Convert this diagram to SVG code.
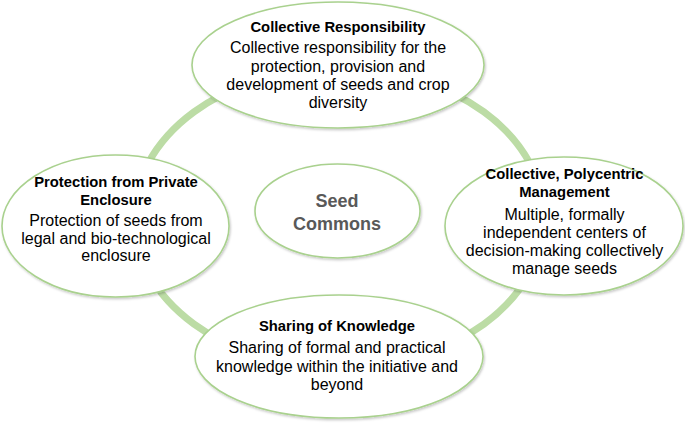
<svg xmlns="http://www.w3.org/2000/svg" width="685" height="424" viewBox="0 0 685 424">
  <style>
    .node { fill: #ffffff; stroke: #a9d18e; stroke-width: 1.6; filter: url(#sh); }
    .ring { fill: none; stroke: #bcdca5; stroke-width: 7; }
    .t { font-family: "Liberation Sans", Arial, sans-serif; font-size: 14.8px; font-weight: bold; fill: #000; text-anchor: middle; }
    .b { font-family: "Liberation Sans", Arial, sans-serif; font-size: 16px; fill: #000; text-anchor: middle; }
    .c { font-family: "Liberation Sans", Arial, sans-serif; font-size: 18px; font-weight: bold; fill: #595959; text-anchor: middle; }
  </style>
  <defs>
    <filter id="sh" x="-10%" y="-10%" width="120%" height="125%">
      <feDropShadow dx="1" dy="1.5" stdDeviation="0.8" flood-color="#000" flood-opacity="0.22"/>
    </filter>
  </defs>
  <rect width="685" height="424" fill="#ffffff"/>
  <g id="connectors">
    <ellipse class="ring" cx="339" cy="218" rx="205" ry="150"/>
  </g>
  <g id="center">
    <ellipse class="node" cx="337.5" cy="211" rx="82.5" ry="47"/>
    <text class="c" x="337" y="206.5">Seed</text>
    <text class="c" x="337" y="230">Commons</text>
  </g>
  <g id="top">
    <ellipse class="node" cx="338" cy="65" rx="146" ry="63"/>
    <text class="t" x="338" y="32">Collective Responsibility</text>
    <text class="b" x="338" y="53">Collective responsibility for the</text>
    <text class="b" x="338" y="71.5">protection, provision and</text>
    <text class="b" x="338" y="90">development of seeds and crop</text>
    <text class="b" x="338" y="107.5">diversity</text>
  </g>
  <g id="left">
    <ellipse class="node" cx="115.5" cy="226" rx="113.5" ry="71"/>
    <text class="t" x="116" y="187">Protection from Private</text>
    <text class="t" x="116" y="204.5">Enclosure</text>
    <text class="b" x="116" y="226">Protection of seeds from</text>
    <text class="b" x="116" y="243.5">legal and bio-technological</text>
    <text class="b" x="116" y="261">enclosure</text>
  </g>
  <g id="right">
    <ellipse class="node" cx="564" cy="226" rx="119" ry="69"/>
    <text class="t" x="564.5" y="178.5">Collective, Polycentric</text>
    <text class="t" x="564.5" y="196.5">Management</text>
    <text class="b" x="564.5" y="220">Multiple, formally</text>
    <text class="b" x="564.5" y="238">independent centers of</text>
    <text class="b" x="564.5" y="256">decision-making collectively</text>
    <text class="b" x="564.5" y="273.5">manage seeds</text>
  </g>
  <g id="bottom">
    <ellipse class="node" cx="339" cy="356.5" rx="144" ry="61.5"/>
    <text class="t" x="337" y="331">Sharing of Knowledge</text>
    <text class="b" x="337" y="353">Sharing of formal and practical</text>
    <text class="b" x="337" y="371.5">knowledge within the initiative and</text>
    <text class="b" x="337" y="390">beyond</text>
  </g>
</svg>
